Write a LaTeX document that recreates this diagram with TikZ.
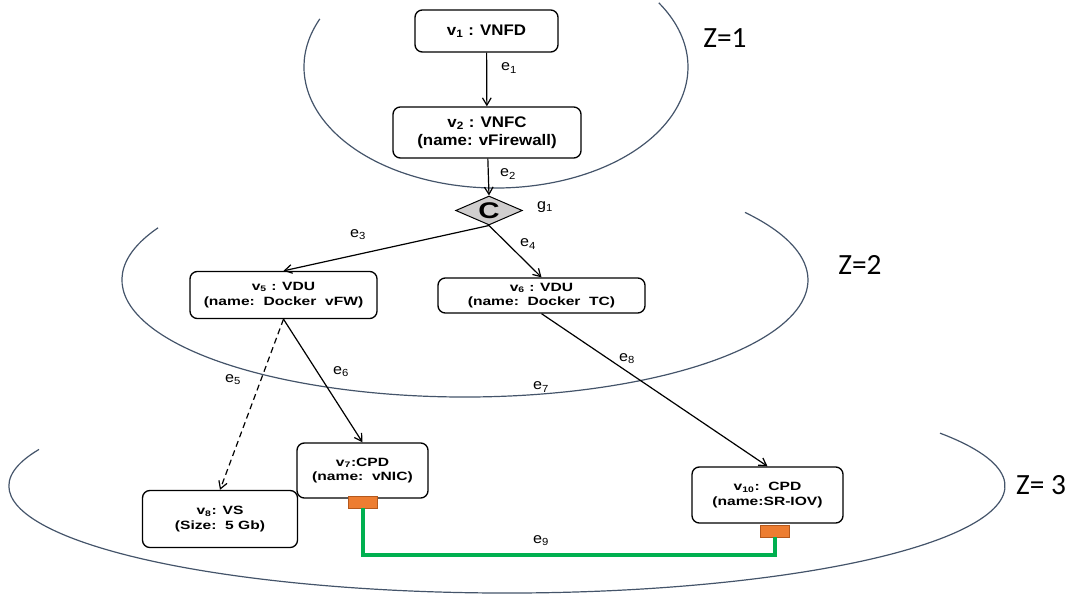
\documentclass[tikz,border=0pt]{standalone}
\usepackage{fontspec}
\setmainfont{Liberation Sans}
\newfontfamily\bigbox{Liberation Sans}[FakeStretch=1.1]
\newfontfamily\smallbox{Liberation Sans}[FakeStretch=1.3]
\newfontfamily\zfont{Carlito}
\usetikzlibrary{arrows.meta,shapes.geometric}
\definecolor{zline}{HTML}{44546A}
\definecolor{portfill}{HTML}{ED7D31}
\definecolor{portdraw}{HTML}{B4581C}
\definecolor{linkgreen}{HTML}{00B050}
\definecolor{diamondgray}{HTML}{D0CECE}
\begin{document}
\begin{tikzpicture}[x=0.75pt,y=0.75pt,
  box/.style={draw, fill=white, rounded corners=5.5pt, line width=1pt, align=center, inner sep=1pt,
    font=\smallbox\bfseries\fontsize{9}{11}\selectfont},
  bigbx/.style={box, font=\bigbox\bfseries\fontsize{11.5}{13.5}\selectfont},
  zarc/.style={draw=zline, line width=0.9pt},
  edge/.style={line width=0.9pt, -{Straight Barb[length=5.5pt,width=6.5pt]}},
  elabel/.style={font=\bigbox\fontsize{11}{13}\selectfont, inner sep=0},
  zlabel/.style={font=\zfont\fontsize{22}{25}\selectfont, inner sep=0},
  port/.style={draw=portdraw, fill=portfill, line width=0.6pt, minimum width=21.75pt, minimum height=9pt, inner sep=0},
  link/.style={draw=linkgreen, line width=3pt}
]
\useasboundingbox (0,0) rectangle (1073,-595);

% layer arcs
\draw[zarc] (496,-67) ++(156.6:192 and 121) arc[start angle=156.6, end angle=392, x radius=192, y radius=121];
\draw[zarc] (465,-280) ++(153.5:343 and 117) arc[start angle=153.5, end angle=395.3, x radius=343, y radius=117];
\draw[zarc] (507,-486) ++(160:498 and 107) arc[start angle=160, end angle=389.6, x radius=498, y radius=107];

% nodes
\node[bigbx, minimum width=107.25pt, minimum height=31.5pt] (v1) at (486.5,-31) {v\textsubscript{1} : VNFD};
\node[bigbx, minimum width=141pt, minimum height=38.25pt] (v2) at (487,-132.5) {v\textsubscript{2} : VNFC\\(name: vFirewall)};
\node[diamond, draw, fill=diamondgray, line width=0.75pt, minimum width=50pt, minimum height=21.75pt, inner sep=0] (g) at (489,-210.5) {};
\node[font=\smallbox\bfseries\fontsize{17}{17}\selectfont, inner sep=0] (gc) at (g) {C};
\node[box, minimum width=140.25pt, minimum height=35.25pt] (v5) at (283.5,-295) {v\textsubscript{5} : VDU\\(name:\ \ Docker\ \ vFW)};
\node[box, minimum width=155.25pt, minimum height=26.25pt] (v6) at (541.5,-295.5) {v\textsubscript{6} : VDU\\(name:\ \ Docker\ \ TC)};
\node[box, minimum width=98.25pt, minimum height=41.25pt] (v7) at (362.5,-470.5) {v\textsubscript{7}:CPD\\(name:\ \ vNIC)};
\node[box, minimum width=116.25pt, minimum height=42.75pt] (v8) at (220,-519) {v\textsubscript{8}: VS\\(Size:\ \ 5 Gb)};
\node[box, minimum width=113.25pt, minimum height=42pt] (v10) at (767.5,-495) {v\textsubscript{10}:\ \ CPD\\(name:SR-IOV)};
\node[port] (p7) at (362.5,-502) {};
\node[port] (p10) at (774.5,-531) {};

% connectors
\draw[edge] (v1) -- (v2);
\draw[edge] (v2) -- (g.north);
\draw[edge] (g.south) -- (v5.north);
\draw[edge] (g.south) -- (v6.north);
\draw[edge, dash pattern=on 4.5pt off 3pt] (v5.south) -- (v8.north);
\draw[edge] (v5.south) -- (v7.north);
\draw[edge] (v6.south) -- (v10.north);
\coordinate (gc9) at (363,-555);
\draw[link] (p7.south) |- (p10.south |- gc9) -- (p10.south);

% labels
\node[elabel] (l1) at (509,-68) {e\textsubscript{1}};
\node[elabel] (l2) at (508,-174) {e\textsubscript{2}};
\node[elabel] (lg) at (545,-207) {g\textsubscript{1}};
\node[elabel] (l3) at (358,-235) {e\textsubscript{3}};
\node[elabel] (l4) at (528,-244) {e\textsubscript{4}};
\node[elabel] (l5) at (233,-380) {e\textsubscript{5}};
\node[elabel] (l6) at (341,-372) {e\textsubscript{6}};
\node[elabel] (l7) at (541,-387) {e\textsubscript{7}};
\node[elabel] (l8) at (627,-359) {e\textsubscript{8}};
\node[elabel] (l9) at (541,-541) {e\textsubscript{9}};
\node[zlabel] (z1) at (725,-38) {Z=1};
\node[zlabel] (z2) at (860,-265) {Z=2};
\node[zlabel] (z3) at (1041,-485) {Z= 3};
\end{tikzpicture}
\end{document}
